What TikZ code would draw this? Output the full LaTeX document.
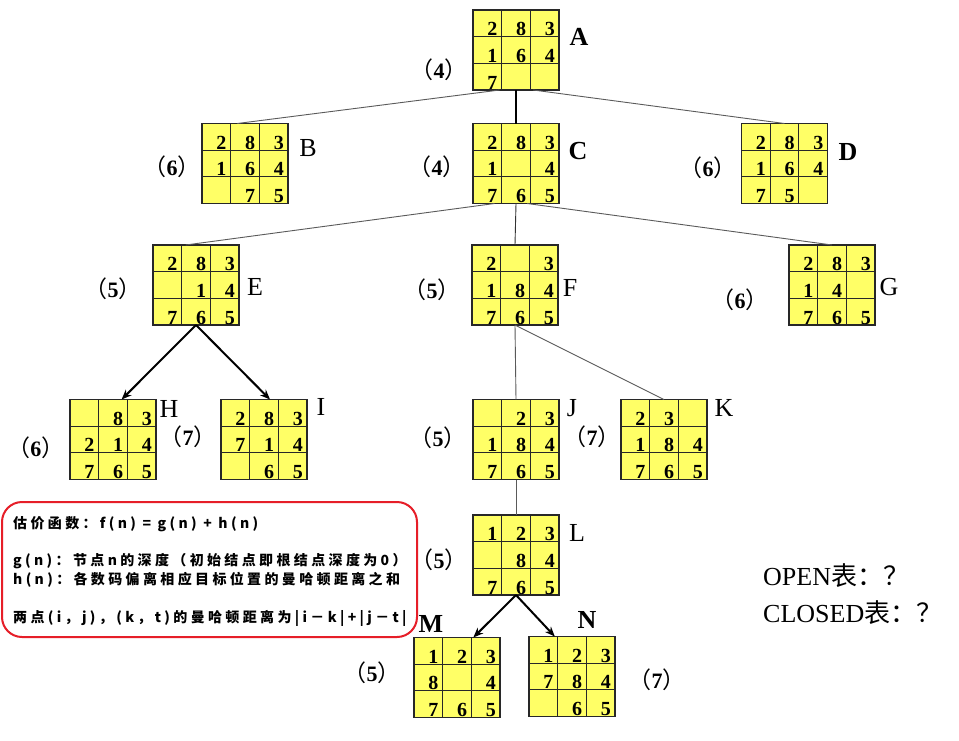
\documentclass[tikz,border=0pt]{standalone}
\usepackage{fontspec}
\setmainfont{Liberation Serif}
\newfontfamily\cjk{Noto Sans CJK SC}
\newfontfamily\cjkls[LetterSpace=24]{Noto Sans CJK SC}
\usetikzlibrary{arrows.meta,calc}
\definecolor{cellyellow}{RGB}{255,255,102}
\definecolor{gridcol}{RGB}{40,40,40}
\definecolor{thincol}{RGB}{90,90,90}
\definecolor{boxred}{RGB}{230,30,40}
\tikzset{
 pbox/.style={draw=gridcol, fill=cellyellow, line width=1.2pt, minimum width=86pt, minimum height=80pt, inner sep=0pt, outer sep=0pt},
 gridln/.style={draw=gridcol, line width=1.1pt},
 digit/.style={font=\fontsize{20}{20}\selectfont\bfseries, inner sep=0pt, anchor=base east},
 tag/.style={font=\fontsize{26}{26}\selectfont, inner sep=0pt},
 tagb/.style={font=\fontsize{26}{26}\selectfont\bfseries, inner sep=0pt},
 cost/.style={inner sep=0pt},
 thinln/.style={draw=thincol, line width=0.9pt},
 thickln/.style={draw=black, line width=2pt},
 arr/.style={thickln, -{Stealth[length=10pt,width=8pt]}},
 redbox/.style={draw=boxred, line width=2pt, rounded corners=20pt, minimum width=415pt, minimum height=135pt, inner sep=0pt},
 notetext/.style={font=\cjkls\bfseries\fontsize{14}{14}\selectfont, inner sep=0pt, anchor=base west},
 listtext/.style={font=\fontsize{26}{26}\selectfont, inner sep=0pt, anchor=base west}
}
\newcommand\puzzle[4]{%
  \node[pbox] (#1) at (#2,#3) {};
  \foreach \f in {1,2}{
    \draw[gridln] ($(#1.north west)!\f/3!(#1.north east)$) -- ($(#1.south west)!\f/3!(#1.south east)$);
    \draw[gridln] ($(#1.north west)!\f/3!(#1.south west)$) -- ($(#1.north east)!\f/3!(#1.south east)$);
  }
  \foreach \d [count=\k from 0] in {#4}{
    \pgfmathtruncatemacro\row{floor(\k/3)}
    \pgfmathtruncatemacro\col{mod(\k,3)}
    \ifnum\d>0
      \node[digit] (#1d\k) at ($(#1.north west)+({(\col+1)*86/3-4},{(\row+1)*80/3-1})$) {\d};
    \fi
  }
}
\newcommand\costlabel[4]{%
  \node[cost] (#1) at (#2,#3) {{\cjk\fontsize{23}{23}\selectfont （}{\fontsize{22}{22}\selectfont\bfseries #4}{\cjk\fontsize{23}{23}\selectfont ）}};
}
\begin{document}
\begin{tikzpicture}[x=1pt,y=-1pt]
\path[fill=white, use as bounding box] (0,0) rectangle (959,740);

\puzzle{A}{516}{50}{2,8,3,1,6,4,7,0,0}
\puzzle{B}{245}{163.5}{2,8,3,1,6,4,0,7,5}
\puzzle{C}{516}{163.5}{2,8,3,1,0,4,7,6,5}
\puzzle{D}{784.5}{163.5}{2,8,3,1,6,4,7,5,0}
\puzzle{E}{196}{285}{2,8,3,0,1,4,7,6,5}
\puzzle{F}{515}{285}{2,0,3,1,8,4,7,6,5}
\puzzle{G}{832}{285}{2,8,3,1,4,0,7,6,5}
\puzzle{H}{113}{439.5}{0,8,3,2,1,4,7,6,5}
\puzzle{I}{264}{439.5}{2,8,3,7,1,4,0,6,5}
\puzzle{J}{516}{439.5}{0,2,3,1,8,4,7,6,5}
\puzzle{K}{664}{439.5}{2,3,0,1,8,4,7,6,5}
\puzzle{L}{516}{555}{1,2,3,0,8,4,7,6,5}
\puzzle{M}{457}{677.5}{1,2,3,8,0,4,7,6,5}
\puzzle{N}{572}{676.5}{1,2,3,7,8,4,0,6,5}

% connectors
\draw[thinln] ($(A.south west)!0.31!(A.south east)$) -- ($(B.north west)!0.41!(B.north east)$);
\draw[thickln] (A.south) -- (C.north);
\draw[thinln] ($(A.south west)!0.70!(A.south east)$) -- (D.north);
\draw[thinln] ($(C.south west)!0.25!(C.south east)$) -- ($(E.north west)!0.38!(E.north east)$);
\draw[thinln, draw=black!80] (C.south) -- (F.north);
\draw[thinln] ($(C.south west)!0.63!(C.south east)$) -- (G.north);
\draw[arr] (E.south) -- ($(H.north west)!0.6!(H.north east)$);
\draw[arr] (E.south) -- ($(I.north west)!0.57!(I.north east)$);
\draw[thinln] (F.south) -- (J.north);
\draw[thinln] (F.south) -- (K.north);
\draw[thinln] (J.south) -- (L.north);
\draw[arr] (L.south) -- ($(M.north west)!0.69!(M.north east)$);
\draw[arr] (L.south) -- ($(N.north west)!0.30!(N.north east)$);

% letter tags
\node[tagb] (lA) at (579,37) {A};
\node[tag]  (lB) at (308,148) {B};
\node[tagb] (lC) at (578,151) {C};
\node[tagb] (lD) at (848,152) {D};
\node[tag]  (lE) at (255,287) {E};
\node[tag]  (lF) at (570,288) {F};
\node[tag]  (lG) at (889,287) {G};
\node[tag]  (lH) at (169,409) {H};
\node[tag]  (lI) at (321,407) {I};
\node[tag]  (lJ) at (572,408) {J};
\node[tag]  (lK) at (724,408) {K};
\node[tag]  (lL) at (577,533) {L};
\node[tagb] (lM) at (431,624) {M};
\node[tagb] (lN) at (587,620) {N};

% cost labels
\costlabel{cA}{439}{70}{4}
\costlabel{cB}{172}{167}{6}
\costlabel{cC}{437}{167}{4}
\costlabel{cD}{708}{168}{6}
\costlabel{cE}{113}{289}{5}
\costlabel{cF}{432}{290}{5}
\costlabel{cG}{740}{300}{6}
\costlabel{cH}{36}{448}{6}
\costlabel{cI}{188}{437}{7}
\costlabel{cJ}{438}{438}{5}
\costlabel{cK}{592}{437}{7}
\costlabel{cL}{439}{560}{5}
\costlabel{cM}{372}{673}{5}
\costlabel{cN}{657}{680}{7}

% note box
\node[redbox] (note) at (209.5,569.5) {};
\node[notetext] (t1) at (13,528) {估价函数：f(n) = g(n) + h(n)};
\node[notetext] (t2) at (13,565) {g(n)：节点n的深度（初始结点即根结点深度为0）};
\node[notetext] (t3) at (13,584) {h(n)：各数码偏离相应目标位置的曼哈顿距离之和};
\node[notetext] (t4) at (13,622) {两点(i，j)，(k，t)的曼哈顿距离为|i－k|+|j－t|};

% open / closed
\node[listtext] (open) at (763,585) {OPEN{\cjk 表：？}};
\node[listtext] (closed) at (763,622) {CLOSED{\cjk 表：？}};
\end{tikzpicture}
\end{document}
